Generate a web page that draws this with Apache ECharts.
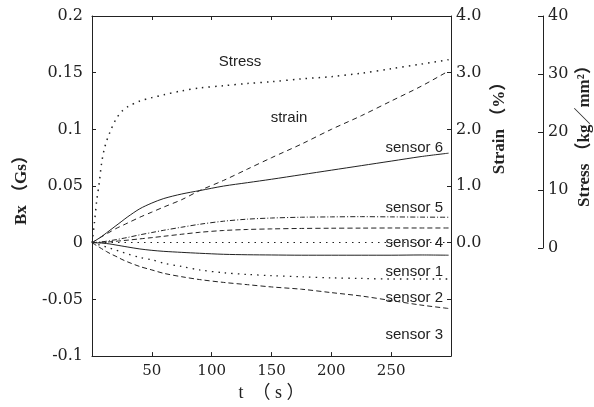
<!DOCTYPE html>
<html>
<head>
<meta charset="utf-8">
<script src="https://cdn.jsdelivr.net/npm/echarts@6/dist/echarts.min.js"></script>
<style>
    html, body { margin: 0; padding: 0; background: #fff; }
    #chartDiv { width: 594px; height: 407px; }
</style>
</head>
<body>
<div id="chartDiv"></div>
<script>
// 时间 (s)
var times = [0, 2, 4, 6, 8, 10, 12, 15, 20, 25, 30, 40, 50, 60, 75, 90, 110, 130, 150, 175, 200, 225, 250, 275, 298];
// Bx (Gs)
var sensor6 = [0, 0.0013, 0.0027, 0.004, 0.0055, 0.007, 0.0086, 0.011, 0.015, 0.019, 0.023, 0.030, 0.035, 0.039, 0.043, 0.046, 0.050, 0.053, 0.056, 0.060, 0.064, 0.068, 0.072, 0.076, 0.079];
var sensor5 = [0, 0.0002, 0.0004, 0.0006, 0.0008, 0.001, 0.0013, 0.0018, 0.0027, 0.0037, 0.0047, 0.007, 0.009, 0.011, 0.0137, 0.0163, 0.019, 0.0208, 0.0218, 0.0225, 0.0228, 0.023, 0.0228, 0.0226, 0.0225];
var sensor4 = [0, 0.0001, 0.0002, 0.0003, 0.0004, 0.0005, 0.0006, 0.0008, 0.0013, 0.0018, 0.0023, 0.0034, 0.0045, 0.0057, 0.0075, 0.0092, 0.0108, 0.0117, 0.0122, 0.0126, 0.0128, 0.0129, 0.013, 0.013, 0.013];
var sensor1 = [0, 0, -0.0001, -0.0002, -0.0003, -0.0005, -0.0007, -0.0011, -0.002, -0.0029, -0.0038, -0.0055, -0.0067, -0.0076, -0.0085, -0.0093, -0.0102, -0.0106, -0.0108, -0.011, -0.011, -0.011, -0.011, -0.0108, -0.011];
var sensor2 = [0, -0.0006, -0.0012, -0.0018, -0.0024, -0.003, -0.0037, -0.0047, -0.0065, -0.0083, -0.010, -0.013, -0.015, -0.018, -0.021, -0.024, -0.0265, -0.028, -0.029, -0.030, -0.031, -0.0315, -0.032, -0.032, -0.032];
var sensor3 = [0, -0.0013, -0.0026, -0.0039, -0.0052, -0.0065, -0.0077, -0.0095, -0.012, -0.0147, -0.017, -0.021, -0.024, -0.027, -0.030, -0.0325, -0.035, -0.037, -0.039, -0.041, -0.044, -0.047, -0.051, -0.055, -0.058];
// Strain (%)
var strain = [0, 0.027, 0.054, 0.08, 0.105, 0.13, 0.155, 0.19, 0.25, 0.30, 0.35, 0.45, 0.54, 0.63, 0.76, 0.92, 1.10, 1.30, 1.50, 1.74, 2.00, 2.24, 2.50, 2.76, 3.03];
// Stress (kg/mm2)
var stress = [0, 3.5, 7.5, 10.5, 14, 16.3, 17.8, 19.5, 21.8, 23.2, 24.0, 25.0, 25.6, 26.1, 26.8, 27.3, 27.7, 28.1, 28.4, 28.9, 29.3, 29.9, 30.7, 31.5, 32.3];
// 刻度
var xTicks = [50, 100, 150, 200, 250];
var strainTicks = [0, 1, 2, 3, 4];

function pairs(arr) {
    return times.map(function (t, i) { return [t, arr[i]]; });
}

var ink = '#222';
var serif = '"DejaVu Serif"';
var nameFont = '"Liberation Serif", "Noto Sans CJK SC"';
var sans = 'Liberation Sans';
var tickFont = { fontFamily: serif, fontSize: 16, color: ink };
var nameStyle = { fontFamily: nameFont, fontSize: 17, fontWeight: 'bold', color: ink };

function line(name, arr, yIndex, dash, width) {
    return {
        name: name,
        type: 'line',
        yAxisIndex: yIndex,
        data: pairs(arr),
        symbol: 'none',
        smooth: 0.3,
        silent: true,
        lineStyle: { color: ink, width: width || 1, type: dash }
    };
}

function note(text, x, y, align) {
    return {
        type: 'text', x: x, y: y,
        style: { text: text, fill: ink, font: '15px "' + sans + '"', textAlign: align || 'right', textVerticalAlign: 'middle' }
    };
}

var option = {
    animation: false,
    backgroundColor: '#fff',
    grid: [
        { left: 92, right: 143, top: 16, bottom: 43 },
        { left: 542, right: 51, top: 16, height: 232 }
    ],
    xAxis: [
        {
            type: 'value', gridIndex: 0, min: 0, max: 300, interval: 50,
            name: 't  （ s ）', nameLocation: 'middle', nameGap: 26,
            nameTextStyle: { fontFamily: nameFont, fontSize: 18, color: ink },
            axisLine: { onZero: false, lineStyle: { color: ink } },
            axisTick: { inside: true, length: 4, lineStyle: { color: ink } },
            splitLine: { show: false },
            axisLabel: Object.assign({}, tickFont, { fontSize: 15, margin: 8, formatter: function (v) { return xTicks.indexOf(v) >= 0 ? v : ''; } })
        },
        {
            type: 'value', gridIndex: 0, position: 'top', min: 0, max: 300, interval: 50,
            axisLine: { onZero: false, lineStyle: { color: ink } },
            axisTick: { inside: true, length: 4, lineStyle: { color: ink } },
            axisLabel: { show: false }, splitLine: { show: false }
        },
        { type: 'value', gridIndex: 1, show: false, min: 0, max: 1 }
    ],
    yAxis: [
        {
            type: 'value', gridIndex: 0, min: -0.1, max: 0.2, interval: 0.05,
            name: 'Bx （Gs）', nameLocation: 'middle', nameGap: 62, nameRotate: 90,
            nameTextStyle: nameStyle,
            axisLine: { show: true, onZero: false, lineStyle: { color: ink } },
            axisTick: { inside: true, length: 4, lineStyle: { color: ink } },
            splitLine: { show: false },
            axisLabel: Object.assign({ margin: 9 }, tickFont)
        },
        {
            type: 'value', gridIndex: 0, position: 'right', min: -2, max: 4, interval: 1,
            axisLine: { show: true, onZero: false, lineStyle: { color: ink } },
            axisTick: { inside: true, length: 4, lineStyle: { color: ink } },
            splitLine: { show: false },
            axisLabel: Object.assign({ margin: 5, formatter: function (v) { return strainTicks.indexOf(v) >= 0 ? v.toFixed(1) : ''; } }, tickFont)
        },
        { type: 'value', gridIndex: 0, show: false, min: -20, max: 40 },
        {
            type: 'value', gridIndex: 1, position: 'right', min: 0, max: 40, interval: 10,
            name: 'Stress （kg／mm²）', nameLocation: 'middle', nameGap: 33, nameRotate: 90,
            nameTextStyle: nameStyle,
            axisLine: { show: true, onZero: false, lineStyle: { color: ink } },
            axisTick: { inside: true, length: 5, lineStyle: { color: ink } },
            splitLine: { show: false },
            axisLabel: Object.assign({ margin: 5 }, tickFont)
        }
    ],
    series: [
        line('sensor 6', sensor6, 0, 'solid'),
        line('sensor 5', sensor5, 0, [5, 2, 1, 2]),
        line('sensor 4', sensor4, 0, [5, 3]),
        (function () {
            var s = line('sensor 1', sensor1, 0, 'solid');
            s.markLine = {
                silent: true, symbol: 'none', label: { show: false },
                lineStyle: { color: ink, width: 1.2, type: [1.5, 5] },
                data: [{ yAxis: 0 }]
            };
            return s;
        })(),
        line('sensor 2', sensor2, 0, [1.5, 5], 1.3),
        line('sensor 3', sensor3, 0, [5, 3]),
        line('strain', strain, 1, [5, 4]),
        line('Stress', stress, 2, [1.5, 5], 1.5)
    ],
    graphic: [
        {
            // Strain 轴标题，只对应 0.0 ~ 4.0 那一段
            type: 'text', x: 500, y: 124, rotation: Math.PI / 2,
            style: { text: 'Strain （%）', fill: ink, font: 'bold 17px "Liberation Serif", "Noto Sans CJK SC"', textAlign: 'center', textVerticalAlign: 'middle' }
        },
        note('Stress', 240, 62, 'center'),
        note('strain', 289, 118, 'center'),
        note('sensor 6', 443, 148),
        note('sensor 5', 443, 208),
        note('sensor 4', 443, 243),
        note('sensor 1', 443, 272),
        note('sensor 2', 443, 298),
        note('sensor 3', 443, 335)
    ]
};

var myChart = echarts.init(document.getElementById('chartDiv'));
myChart.setOption(option);
</script>
</body>
</html>
